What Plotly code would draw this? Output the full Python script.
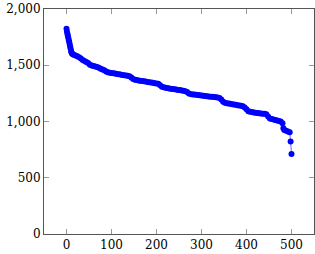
import plotly.graph_objects as go

# index of each sorted sample
idx = [0, 1, 2, 3, 4, 5, 6, 7, 8, 9, 10, 11, 12, 14, 16, 20, 24, 28, 32, 36,
       40, 44, 48, 52, 56, 60, 64, 68, 72, 76, 80, 84, 88, 92, 96, 100, 104,
       108, 112, 116, 120, 124, 128, 132, 136, 140, 144, 148, 152, 156, 160,
       164, 168, 172, 176, 180, 184, 188, 192, 196, 200, 204, 208, 212, 216,
       220, 224, 228, 232, 236, 240, 244, 248, 252, 256, 260, 264, 268, 272,
       276, 280, 284, 288, 292, 296, 300, 304, 308, 312, 316, 320, 324, 328,
       332, 336, 340, 344, 348, 352, 356, 360, 364, 368, 372, 376, 380, 384,
       388, 392, 396, 400, 404, 408, 412, 416, 420, 424, 428, 432, 436, 440,
       444, 448, 452, 456, 460, 464, 468, 472, 476, 480, 482, 484, 488, 492,
       496, 498, 500]

values = [1825, 1800, 1780, 1762, 1745, 1725, 1708, 1688, 1668, 1650, 1630,
          1615, 1604, 1597, 1593, 1586, 1579, 1572, 1561, 1546, 1537, 1528,
          1520, 1505, 1497, 1493, 1489, 1485, 1478, 1470, 1462, 1455, 1445,
          1438, 1434, 1431, 1428, 1426, 1423, 1420, 1417, 1414, 1411, 1409,
          1406, 1402, 1392, 1378, 1372, 1368, 1365, 1362, 1360, 1357, 1355,
          1352, 1350, 1347, 1344, 1341, 1338, 1335, 1322, 1308, 1304, 1300,
          1297, 1294, 1291, 1289, 1286, 1284, 1281, 1279, 1276, 1273, 1270,
          1262, 1250, 1245, 1241, 1239, 1237, 1235, 1233, 1231, 1229, 1227,
          1225, 1223, 1221, 1219, 1217, 1215, 1213, 1210, 1195, 1175, 1166,
          1163, 1160, 1157, 1154, 1151, 1148, 1145, 1142, 1139, 1135, 1125,
          1110, 1092, 1087, 1084, 1081, 1078, 1076, 1074, 1072, 1070, 1068,
          1065, 1045, 1026, 1022, 1018, 1014, 1010, 1005, 1000, 985, 940, 925,
          918, 912, 905, 822, 712]

x_ticks = [0, 100, 200, 300, 400, 500]
y_ticks = [0, 500, 1000, 1500, 2000]
y_tick_labels = ["0", "500", "1,000", "1,500", "2,000"]

fig = go.Figure()
fig.add_trace(go.Scatter(
    x=idx, y=values, mode="lines+markers",
    line=dict(color="rgb(0,0,255)", width=0.6),
    marker=dict(color="rgb(0,0,255)", size=6, line=dict(width=0)),
    showlegend=False,
))

font = dict(family="DejaVu Serif", size=12, color="black")
axis_common = dict(
    showline=True, linecolor="#555", linewidth=1, mirror="ticks",
    ticks="inside", ticklen=5, tickwidth=1, tickcolor="#999",
    showgrid=False, zeroline=False, tickfont=font, automargin=False,
)
fig.update_xaxes(range=[-50, 550], tickvals=x_ticks,
                 ticktext=[str(v) for v in x_ticks],
                 **axis_common)
fig.update_yaxes(range=[0, 2000], tickvals=y_ticks, ticktext=y_tick_labels,
                 **axis_common)
fig.update_layout(
    width=315, height=254,
    margin=dict(l=44, r=1, t=9, b=20),
    paper_bgcolor="white", plot_bgcolor="white",
    font=font,
)
fig.write_html(
    "out.html",
    config={"displayModeBar": False},
    post_script="document.body.style.margin='0';document.body.style.padding='0';",
)
